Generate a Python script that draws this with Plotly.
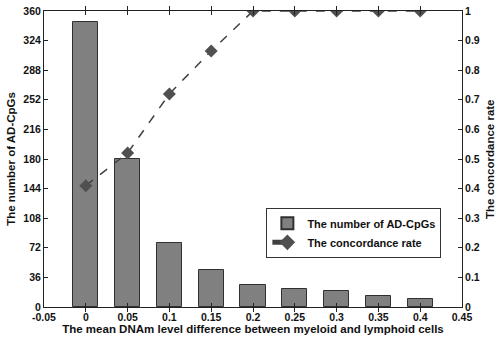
import plotly.graph_objects as go

x_vals = [0, 0.05, 0.1, 0.15, 0.2, 0.25, 0.3, 0.35, 0.4]
num_adcpgs = [347, 180, 78, 45, 27, 22, 19, 13.5, 10]
concordance = [0.41, 0.52, 0.72, 0.865, 1, 1, 1, 1, 1]
x_ticks = [-0.05, 0, 0.05, 0.1, 0.15, 0.2, 0.25, 0.3, 0.35, 0.4, 0.45]
x_ticktext = ["-0.05", "0", "0.05", "0.1", "0.15", "0.2", "0.25", "0.3", "0.35", "0.4", "0.45"]
y1_ticks = [0, 36, 72, 108, 144, 180, 216, 252, 288, 324, 360]
y2_ticks = [0, 0.1, 0.2, 0.3, 0.4, 0.5, 0.6, 0.7, 0.8, 0.9, 1]
y2_ticktext = ["0", "0.1", "0.2", "0.3", "0.4", "0.5", "0.6", "0.7", "0.8", "0.9", "1"]

font_family = "Liberation Sans, Arial, sans-serif"
tick_font = dict(family=font_family, size=10.5, color="#111111", weight="bold")

fig = go.Figure()
fig.add_trace(go.Bar(
    x=x_vals, y=num_adcpgs, width=0.03, name="The number of AD-CpGs",
    marker=dict(color="#808080", line=dict(color="#303030", width=1)),
    yaxis="y",
))
fig.add_trace(go.Scatter(
    x=x_vals, y=concordance, name="The concordance rate", mode="lines+markers",
    line=dict(color="#404040", width=1.5, dash="dash"),
    marker=dict(symbol="diamond", size=10, color="#505050"),
    yaxis="y2",
))

axis_common = dict(showline=True, linecolor="#222222", linewidth=1, ticks="inside",
                   ticklen=4, tickcolor="#222222", showgrid=False, zeroline=False,
                   tickfont=tick_font, automargin=False)

fig.update_layout(
    width=500, height=343,
    margin=dict(l=44, r=38, t=11, b=36),
    plot_bgcolor="white", paper_bgcolor="white",
    font=dict(family=font_family, color="#111111"),
    bargap=0,
    xaxis=dict(range=[-0.05, 0.45], tickvals=x_ticks, ticktext=x_ticktext, mirror="allticks",
               title=dict(text="<b>The mean DNAm level difference between myeloid and lymphoid cells</b>",
                          font=dict(size=11.5), standoff=3),
               **axis_common),
    yaxis=dict(range=[0, 360], tickvals=y1_ticks,
               title=dict(text="<b>The number of AD-CpGs</b>", font=dict(size=11.5), standoff=5),
               **axis_common),
    yaxis2=dict(range=[0, 1], tickvals=y2_ticks, ticktext=y2_ticktext, overlaying="y", side="right",
                **axis_common),
    legend=dict(x=0.532, y=0.335, xanchor="left", yanchor="top", bgcolor="white",
                bordercolor="#333333", borderwidth=1,
                font=dict(family=font_family, size=11, color="#111111", weight="bold"),
                tracegroupgap=0, itemsizing="constant"),
    annotations=[dict(text="<b>The concordance rate</b>", xref="paper", yref="paper",
                      x=1.067, y=0.5, xanchor="center", yanchor="middle", textangle=-90,
                      showarrow=False, font=dict(family=font_family, size=11.5, color="#111111"))],
)

fig.write_html("out.html", config={"displayModeBar": False},
               post_script="document.body.style.margin='0';document.body.style.overflow='hidden';")
